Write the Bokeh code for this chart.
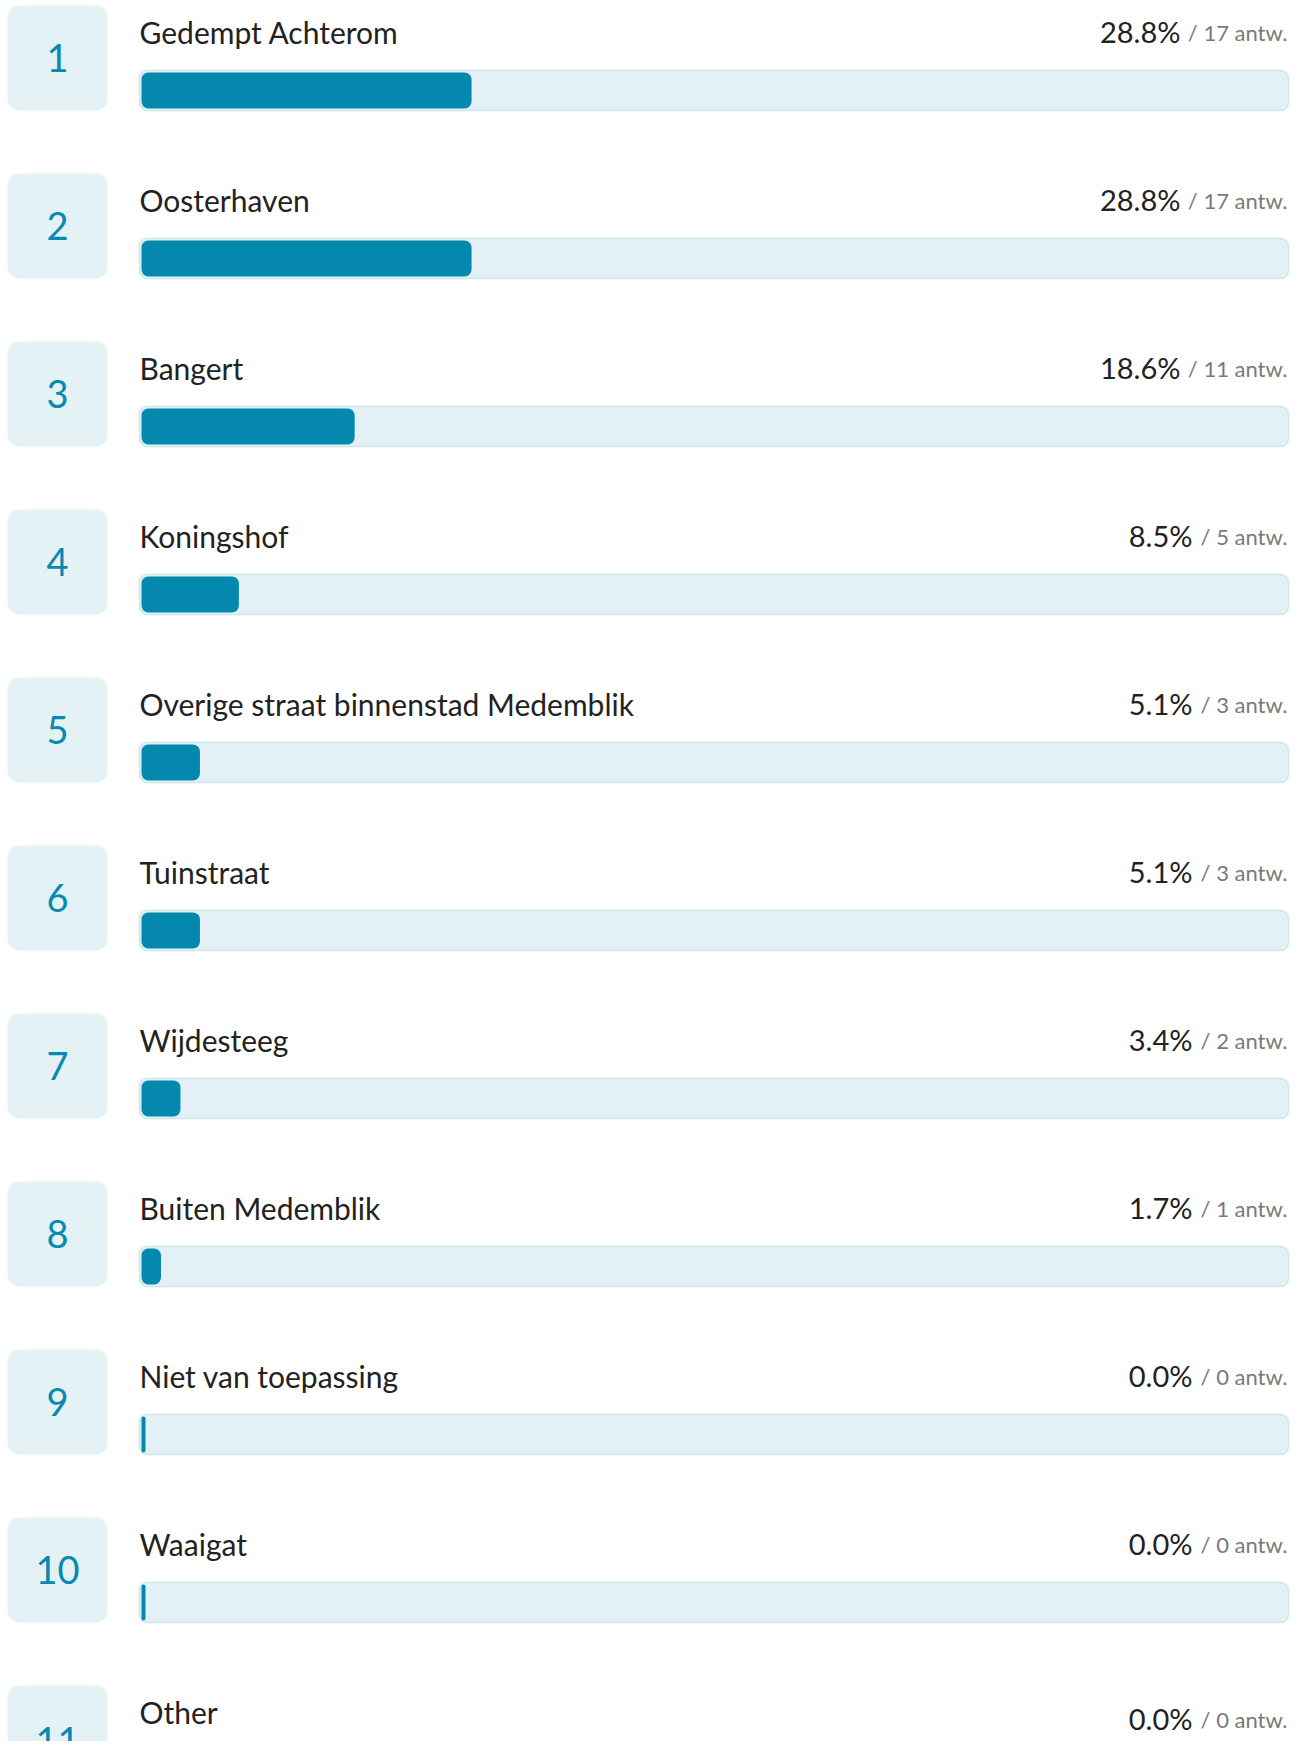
from bokeh.plotting import figure
from bokeh.models import ColumnDataSource, Range1d
from bokeh.core.properties import value
from bokeh.embed import file_html
from bokeh.resources import INLINE

# ---- data ----
ranks = ["1", "2", "3", "4", "5", "6", "7", "8", "9", "10", "11"]
labels = ["Gedempt Achterom", "Oosterhaven", "Bangert", "Koningshof",
          "Overige straat binnenstad Medemblik", "Tuinstraat", "Wijdesteeg",
          "Buiten Medemblik", "Niet van toepassing", "Waaigat", "Other"]
percent = [28.8, 28.8, 18.6, 8.5, 5.1, 5.1, 3.4, 1.7, 0.0, 0.0, 0.0]
counts = [17, 17, 11, 5, 3, 3, 2, 1, 0, 0, 0]
has_bar = [True] * 10 + [False]

# ---- layout (picture pixel coordinates) ----
W, H = 1292, 1741
ROW0, STEP = 5, 168
BOX_L, BOX_R, BOX_H = 7, 107, 105
TRK_L, TRK_R = 139, 1288
TRK_T, TRK_B = 65, 105
TEXT_X = 139
RIGHT = 1287
BASE = 26
FONT = "Lato"

p = figure(width=W, height=H, output_backend="svg", toolbar_location=None,
           x_range=Range1d(0, W), y_range=Range1d(H, 0),
           min_border=0)
p.axis.visible = False
p.grid.visible = False
p.outline_line_color = None
p.background_fill_color = "white"
p.border_fill_color = "white"

n = len(labels)
tops = [ROW0 + STEP * i for i in range(n)]
last = n - 1

# number boxes
box_bottom = [t + BOX_H if i != last else t + 200 for i, t in enumerate(tops)]
p.quad(left=[BOX_L] * n, right=[BOX_R] * n, top=tops, bottom=box_bottom,
       fill_color="#e4f2f6", line_color=None, border_radius=12)

num_y = [t + BOX_H / 2 + (3 if i == last else 0) for i, t in enumerate(tops)]
p.text(x=[(BOX_L + BOX_R) / 2] * n, y=num_y, text=ranks,
       text_align="center", text_baseline="middle",
       text_font=value(FONT), text_font_size="38px", text_color="#0789b0")

# labels
p.text(x=[TEXT_X] * n, y=[t + BASE for t in tops], text=labels,
       text_align="left", text_baseline="alphabetic",
       text_font=value(FONT), text_font_size="30px", text_color="#222222")

# count text (right aligned)
cnt_txt = [f"/ {c} antw." for c in counts]
pct_base = [t + BASE + (7 if i == last else 0) for i, t in enumerate(tops)]
p.text(x=[RIGHT] * n, y=[b + 1 for b in pct_base], text=cnt_txt,
       text_align="right", text_baseline="alphabetic",
       text_font=value(FONT), text_font_size="22px", text_color="#7a7a7a")

# percent text, placed left of count text
pct_txt = [f"{v:.1f}%" for v in percent]
pct_x = [RIGHT - 98 - 9 + 12 * (2 - len(str(c))) for c in counts]
p.text(x=pct_x, y=pct_base, text=pct_txt,
       text_align="right", text_baseline="alphabetic",
       text_font=value(FONT), text_font_size="29px", text_color="#222222")

# tracks and fills
bi = [i for i in range(n) if has_bar[i]]
p.quad(left=[TRK_L] * len(bi), right=[TRK_R] * len(bi),
       top=[tops[i] + TRK_T for i in bi], bottom=[tops[i] + TRK_B for i in bi],
       fill_color="#e3f1f6", line_color="#cfe6ee", line_width=1.5,
       border_radius=8)

span = TRK_R - TRK_L - 3
fill_r = [TRK_L + 2 + max(percent[i] / 100 * span, 4) for i in bi]
p.quad(left=[TRK_L + 2] * len(bi), right=fill_r,
       top=[tops[i] + TRK_T + 2 for i in bi],
       bottom=[tops[i] + TRK_B - 2 for i in bi],
       fill_color="#0588ae", line_color=None, border_radius=7)

open("out.html", "w").write(file_html(p, INLINE))
